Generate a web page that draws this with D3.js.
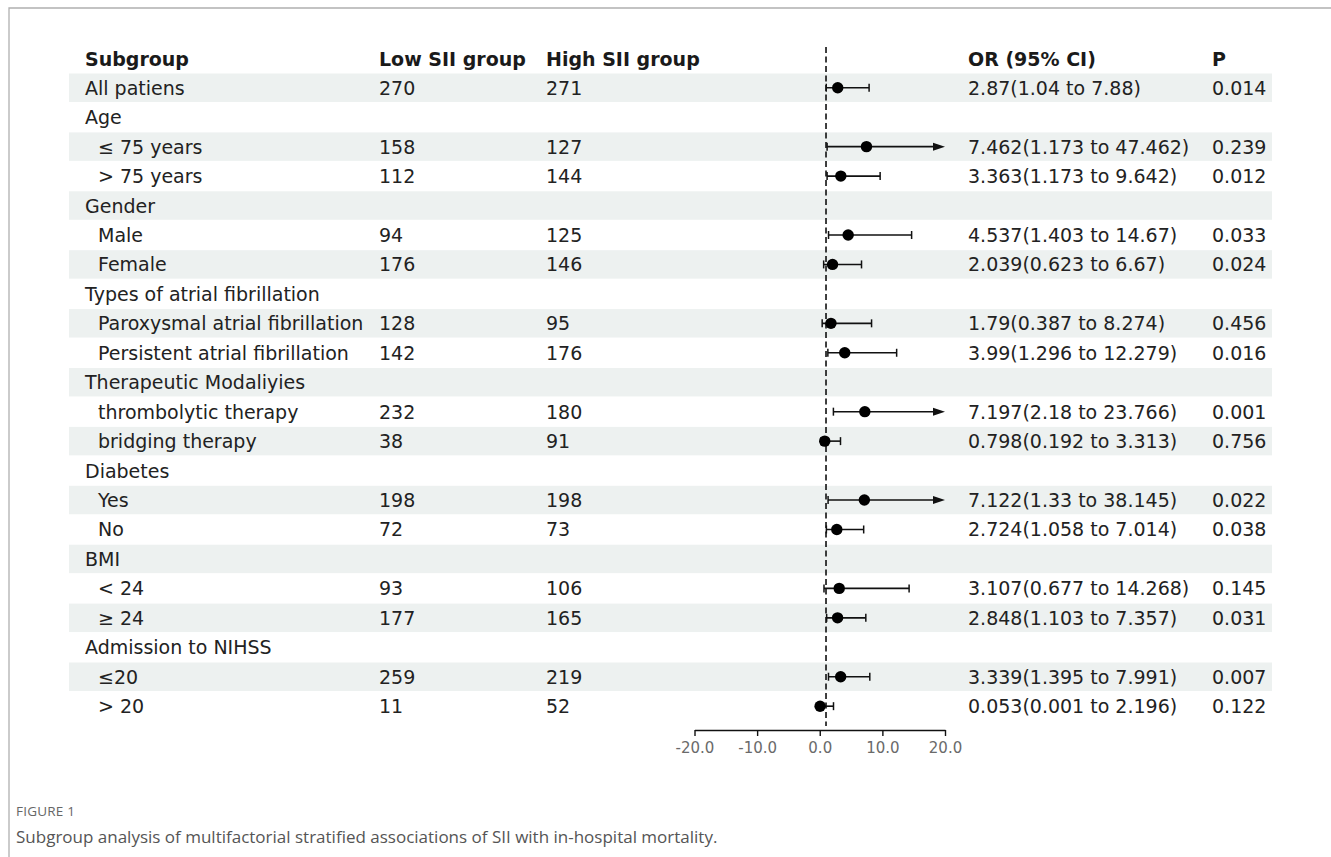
<!DOCTYPE html>
<html>
<head>
<meta charset="utf-8">
<script src="https://cdn.jsdelivr.net/npm/d3@7"></script>
<style>
  body { margin: 0; background: #fff; }
  svg { display: block; }
</style>
</head>
<body>
<div id="wrapper"></div>
<script>
// rows of the table, top to bottom; null = group heading without estimate
const labels = ["All patiens", "Age", "≤ 75 years", "> 75 years", "Gender", "Male", "Female",
  "Types of atrial fibrillation", "Paroxysmal atrial fibrillation", "Persistent atrial fibrillation",
  "Therapeutic Modaliyies", "thrombolytic therapy", "bridging therapy", "Diabetes", "Yes", "No",
  "BMI", "< 24", "≥ 24", "Admission to NIHSS", "≤20", "> 20"];
const indented = [0, 0, 1, 1, 0, 1, 1, 0, 1, 1, 0, 1, 1, 0, 1, 1, 0, 1, 1, 0, 1, 1];
const lowN  = [270, null, 158, 112, null, 94, 176, null, 128, 142, null, 232, 38, null, 198, 72, null, 93, 177, null, 259, 11];
const highN = [271, null, 127, 144, null, 125, 146, null, 95, 176, null, 180, 91, null, 198, 73, null, 106, 165, null, 219, 52];
const orVal = [2.87, null, 7.462, 3.363, null, 4.537, 2.039, null, 1.79, 3.99, null, 7.197, 0.798, null, 7.122, 2.724, null, 3.107, 2.848, null, 3.339, 0.053];
const ciLow = [1.04, null, 1.173, 1.173, null, 1.403, 0.623, null, 0.387, 1.296, null, 2.18, 0.192, null, 1.33, 1.058, null, 0.677, 1.103, null, 1.395, 0.001];
const ciHigh = [7.88, null, 47.462, 9.642, null, 14.67, 6.67, null, 8.274, 12.279, null, 23.766, 3.313, null, 38.145, 7.014, null, 14.268, 7.357, null, 7.991, 2.196];
const pVal  = [0.014, null, 0.239, 0.012, null, 0.033, 0.024, null, 0.456, 0.016, null, 0.001, 0.756, null, 0.022, 0.038, null, 0.145, 0.031, null, 0.007, 0.122];
const headers = ["Subgroup", "Low SII group", "High SII group", "OR (95% CI)", "P"];
const xTicks = [-20, -10, 0, 10, 20];

const width = 1331, height = 857;
const font = "'DejaVu Sans', sans-serif";
const fs = 19;

const cols = { sub: 85, indent: 13, low: 379, high: 546, or: 968, p: 1212 };

const rows = labels.map((l, i) => ({
  label: l, indent: indented[i], low: lowN[i], high: highN[i],
  or: orVal[i], lo: ciLow[i], hi: ciHigh[i], p: pVal[i]
}));

const svg = d3.select("#wrapper").append("svg")
  .attr("width", width)
  .attr("height", height);

// frame of the figure panel
svg.append("path")
  .attr("d", `M9,${height} L9,8 L${width},8`)
  .attr("fill", "none")
  .attr("stroke", "#b0b0b0")
  .attr("stroke-width", 1.3);

const yScale = d3.scaleBand()
  .domain(d3.range(rows.length))
  .range([73, 73 + 29.45 * rows.length])
  .padding(0);
const yMid = i => yScale(i) + yScale.bandwidth() / 2;

const xScale = d3.scaleLinear()
  .domain([-20, 20])
  .range([694.5, 945]);

// zebra bands
svg.append("g").selectAll("rect")
  .data(rows.filter((d, i) => i % 2 === 0).map((d, k) => k * 2))
  .join("rect")
  .attr("x", 69)
  .attr("width", 1272 - 69)
  .attr("y", i => yScale(i) + 0.5)
  .attr("height", yScale.bandwidth() - 1)
  .attr("fill", "#edf1f0");

// header
const headX = [cols.sub, cols.low, cols.high, cols.or, cols.p];
svg.append("g").selectAll("text")
  .data(headers)
  .join("text")
  .attr("x", (d, i) => headX[i])
  .attr("y", 59)
  .attr("dominant-baseline", "central")
  .attr("font-family", font)
  .attr("font-weight", "bold")
  .attr("font-size", fs)
  .attr("fill", "#1a1a1a")
  .text(d => d);

const body = svg.append("g")
  .attr("font-family", font)
  .attr("font-size", fs)
  .attr("fill", "#222")
  .attr("dominant-baseline", "central");

const addCol = (x, acc) => body.append("g").selectAll("text")
  .data(rows.map((d, i) => ({ d, i })).filter(o => acc(o.d) !== null))
  .join("text")
  .attr("x", typeof x === "function" ? o => x(o.d) : x)
  .attr("y", o => yMid(o.i))
  .text(o => acc(o.d));

addCol(d => cols.sub + (d.indent ? cols.indent : 0), d => d.label);
addCol(cols.low, d => d.low);
addCol(cols.high, d => d.high);
addCol(cols.or, d => d.or === null ? null : `${d.or}(${d.lo} to ${d.hi})`);
addCol(cols.p, d => d.p === null ? null : d3.format(".3f")(d.p));

// reference line at OR = 1
svg.append("line")
  .attr("x1", xScale(1)).attr("x2", xScale(1))
  .attr("y1", 47).attr("y2", 726)
  .attr("stroke", "#111")
  .attr("stroke-width", 1.6)
  .attr("stroke-dasharray", "6,3.5");

// CI whiskers, caps, arrows and points
const est = rows.map((d, i) => ({ ...d, i })).filter(d => d.or !== null);
const maxX = xScale.domain()[1];
const marks = svg.append("g");

marks.selectAll(".ci")
  .data(est)
  .join("line")
  .attr("x1", d => xScale(d.lo))
  .attr("x2", d => xScale(Math.min(d.hi, maxX)) - (d.hi > maxX ? 6 : 0))
  .attr("y1", d => yMid(d.i)).attr("y2", d => yMid(d.i))
  .attr("stroke", "#111")
  .attr("stroke-width", 1.6);

marks.selectAll(".capL")
  .data(est)
  .join("line")
  .attr("x1", d => xScale(d.lo)).attr("x2", d => xScale(d.lo))
  .attr("y1", d => yMid(d.i) - 4).attr("y2", d => yMid(d.i) + 4)
  .attr("stroke", "#111")
  .attr("stroke-width", 1.5);

marks.selectAll(".capR")
  .data(est.filter(d => d.hi <= maxX))
  .join("line")
  .attr("x1", d => xScale(d.hi)).attr("x2", d => xScale(d.hi))
  .attr("y1", d => yMid(d.i) - 4).attr("y2", d => yMid(d.i) + 4)
  .attr("stroke", "#111")
  .attr("stroke-width", 1.5);

marks.selectAll(".arrow")
  .data(est.filter(d => d.hi > maxX))
  .join("path")
  .attr("d", d => {
    const x = xScale(maxX), y = yMid(d.i);
    return `M${x},${y} L${x - 12},${y - 4} L${x - 12},${y + 4} Z`;
  })
  .attr("fill", "#111");

marks.selectAll("circle")
  .data(est)
  .join("circle")
  .attr("cx", d => xScale(d.or))
  .attr("cy", d => yMid(d.i))
  .attr("r", 5.7)
  .attr("fill", "#000");

// x axis (plain hyphen for negatives, like the original)
const tickFmt = d => d3.format(".1f")(d).replace("−", "-");
const xAxis = svg.append("g")
  .attr("transform", "translate(0,730)")
  .call(d3.axisBottom(xScale).tickValues(xTicks).tickFormat(tickFmt).tickSize(6).tickSizeOuter(0));
xAxis.select(".domain").attr("stroke", "#111").attr("stroke-width", 1.6);
xAxis.selectAll(".tick line").attr("stroke", "#111").attr("stroke-width", 1.4);
xAxis.selectAll(".tick text")
  .attr("font-family", font)
  .attr("font-size", 15)
  .attr("fill", "#6a6a6a")
  .attr("dy", "0.9em");

// caption
svg.append("text")
  .attr("x", 16).attr("y", 816)
  .attr("font-family", "'Open Sans', Lato, sans-serif")
  .attr("font-size", 13.5)
  .attr("letter-spacing", 0.2)
  .attr("fill", "#666")
  .text("FIGURE 1");

svg.append("text")
  .attr("x", 16).attr("y", 843)
  .attr("font-family", "'Open Sans', Lato, sans-serif")
  .attr("font-size", 17)
  .attr("fill", "#555")
  .text("Subgroup analysis of multifactorial stratified associations of SII with in-hospital mortality.");
</script>
</body>
</html>
